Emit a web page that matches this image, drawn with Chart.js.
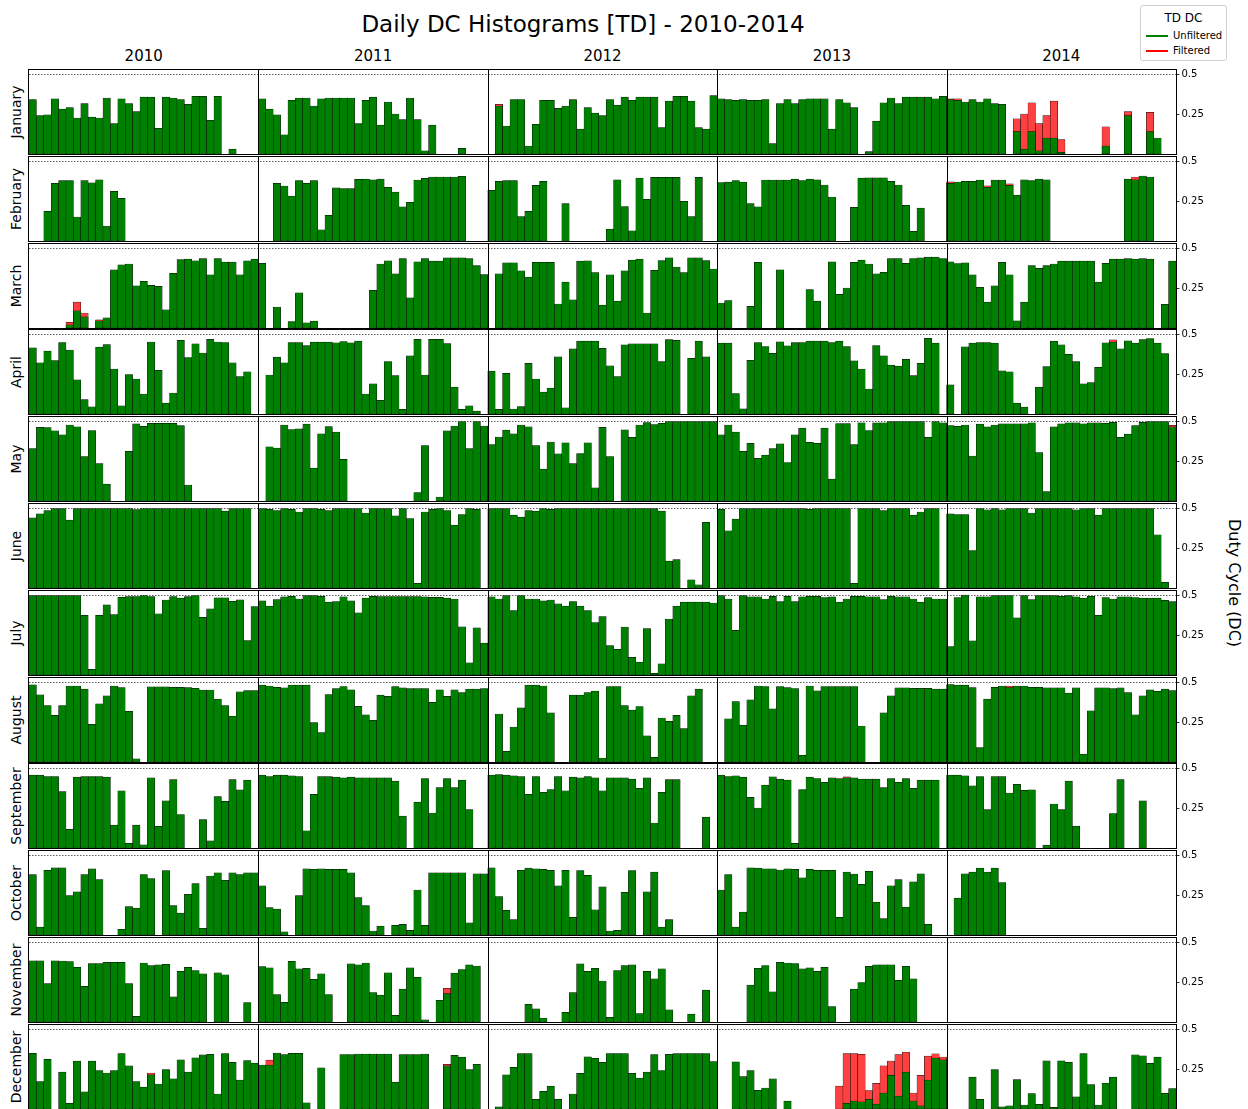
<!DOCTYPE html>
<html>
<head>
<meta charset="utf-8">
<title>Daily DC Histograms [TD] - 2010-2014</title>
<script src="https://cdn.jsdelivr.net/npm/chart.js@4.4.1/dist/chart.umd.min.js"></script>
<style>
  html, body { margin: 0; padding: 0; background: #fff; }
  #fig { position: relative; width: 1248px; height: 1109px; overflow: hidden;
         font-family: "DejaVu Sans", sans-serif; color: #000; background: #fff; }
  .txt { position: absolute; white-space: nowrap; line-height: 1; }
  .rowchart { position: absolute; }
  #legend { position: absolute; left: 1140px; top: 5px; width: 85px; height: 54px;
            border: 1px solid #d0d0d0; border-radius: 3px; background: #fff; }
  #legend .t { position: absolute; left: 0; width: 85px; top: 5px; text-align: center; font-size: 12px; }
  #legend .ln { position: absolute; left: 5px; width: 22px; height: 2px; }
  #legend .lb { position: absolute; left: 32px; font-size: 10px; }
</style>
</head>
<body>
<div id="fig">
  <div class="txt" style="left:0;width:1166px;top:13px;text-align:center;font-size:23px;">Daily DC Histograms [TD] - 2010-2014</div>
  <div id="legend">
    <div class="t">TD DC</div>
    <div class="ln" style="top:29px;background:#008000;"></div><div class="lb" style="top:24px;">Unfiltered</div>
    <div class="ln" style="top:44px;background:#ff0000;"></div><div class="lb" style="top:39px;">Filtered</div>
  </div>
  <div class="txt" style="left:1234px;top:583px;font-size:16px;transform:translate(-50%,-50%) rotate(90deg);">Duty Cycle (DC)</div>
</div>
<script>
// ---- data -------------------------------------------------------------
const _ = null;
const years  = ['2010', '2011', '2012', '2013', '2014'];
const months = ['January', 'February', 'March', 'April', 'May', 'June',
                'July', 'August', 'September', 'October', 'November', 'December'];
const DAYS = 31;                 // day slots per month panel
const dcTicks = [0.25, 0.5];     // right-hand tick values
const dcTickLabels = ['0.25', '0.5'];

// unfiltered daily duty cycle, one row of 31 days per year
const janDC = [
  [0.34,0.24,0.245,0.345,0.28,0.29,0.225,0.315,0.23,0.225,0.35,0.19,0.345,0.315,0.265,0.355,0.355,0.16,0.355,0.35,0.34,0.31,0.36,0.36,0.21,0.36,_,0.03,_,_,_],
  [0.345,0.28,0.245,0.12,0.335,0.35,0.35,0.30,0.345,0.35,0.35,0.35,0.35,0.19,0.335,0.355,0.18,0.325,0.25,0.215,0.35,0.215,0.02,0.18,_,_,_,0.035,_,_,_],
  [_,0.30,0.175,0.34,0.34,0.05,0.185,0.335,0.335,0.285,0.30,0.34,0.155,0.29,0.255,0.24,0.34,0.305,0.355,0.335,0.355,0.355,0.355,0.165,0.33,0.36,0.36,0.33,0.165,0.155,0.365],
  [0.345,0.34,0.335,0.34,0.335,0.335,0.34,0.065,0.315,0.34,0.315,0.34,0.345,0.345,0.345,0.155,0.34,0.32,0.29,_,0.015,0.205,0.32,0.35,0.315,0.355,0.355,0.355,0.355,0.345,0.36],
  [0.34,0.335,0.325,0.34,0.325,0.345,0.315,0.31,_,0.14,0.03,0.14,0.02,0.10,0.10,0.01,_,_,_,_,_,0.05,_,_,0.24,_,_,0.14,0.10,_,_]
];
const febDC = [
  [_,_,0.185,0.36,0.377,0.377,0.15,0.377,0.363,0.383,0.094,0.31,0.266,_,_,_,_,_,_,_,_,_,_,_,_,_,_,_,_,_,_],
  [_,_,0.36,0.344,0.28,0.377,0.36,0.377,0.07,0.16,0.332,0.328,0.328,0.385,0.387,0.383,0.387,0.336,0.305,0.213,0.242,0.381,0.391,0.40,0.40,0.40,0.40,0.404,_,_,_],
  [0.316,0.373,0.377,0.377,0.152,0.186,0.348,0.373,_,_,0.234,_,_,_,_,_,0.074,0.383,0.215,0.064,0.393,0.26,0.398,0.398,0.398,0.398,0.248,0.152,0.398,_,_],
  [0.365,0.368,0.377,0.368,0.234,0.213,0.381,0.381,0.381,0.381,0.387,0.377,0.387,0.383,0.35,0.275,_,_,0.211,0.393,0.395,0.395,0.395,0.373,0.35,0.223,0.061,0.205,_,_,_],
  [0.36,0.369,0.373,0.373,0.381,0.336,0.381,0.381,0.348,0.287,0.383,0.377,0.387,0.383,_,_,_,_,_,_,_,_,_,_,0.387,0.383,0.406,0.40,_,_,_]
];
const marDC = [
  [_,_,_,_,_,0.02,0.107,0.07,_,0.045,0.064,0.363,0.395,0.40,0.264,0.291,0.266,0.26,0.113,0.342,0.428,0.43,0.42,0.434,0.332,0.434,0.412,0.412,0.332,0.42,0.43],
  [0.404,_,0.131,_,0.04,0.22,0.033,0.043,_,_,_,_,_,_,_,0.236,0.40,0.42,0.338,0.434,0.189,0.414,0.434,0.418,0.418,0.438,0.438,0.438,0.434,0.39,0.334],
  [_,0.338,0.408,0.408,0.357,0.318,0.41,0.41,0.41,0.15,0.287,0.176,0.418,0.42,0.346,0.143,0.332,0.168,0.357,0.424,0.43,0.094,0.36,0.422,0.438,0.381,0.346,0.438,0.438,0.422,0.369],
  [0.156,0.172,_,_,0.135,0.41,_,_,0.363,_,_,_,0.24,0.168,_,0.414,0.211,0.25,0.41,0.424,0.40,0.338,0.348,0.434,0.434,0.404,0.434,0.438,0.443,0.443,0.434],
  [0.414,0.402,0.408,0.332,0.254,0.162,0.264,0.41,0.332,0.045,0.162,0.39,0.373,0.39,0.40,0.418,0.418,0.418,0.418,0.418,0.287,0.404,0.43,0.43,0.434,0.43,0.434,0.43,_,0.148,0.418]
];
const aprDC = [
  [0.414,0.32,0.393,0.334,0.447,0.40,0.213,0.09,0.045,0.418,0.434,0.281,0.051,0.246,0.219,0.125,0.45,0.273,0.068,0.131,0.461,0.352,0.438,0.381,0.467,0.45,0.447,0.32,0.234,0.264,_],
  [_,0.244,0.355,0.32,0.447,0.447,0.428,0.449,0.449,0.449,0.445,0.453,0.445,0.455,0.125,0.189,0.086,0.328,0.24,0.029,0.363,0.467,0.244,0.467,0.467,0.44,0.168,0.029,0.051,0.018,_],
  [0.268,0.029,0.254,0.031,0.047,0.316,0.219,0.137,0.162,0.357,0.039,0.408,0.455,0.455,0.455,0.41,0.301,0.234,0.432,0.438,0.438,0.438,0.438,0.328,0.465,0.461,_,0.348,0.455,0.357,_],
  [0.443,0.443,0.127,0.033,0.336,0.447,0.422,0.379,0.451,0.426,0.447,0.447,0.455,0.455,0.455,0.447,0.455,0.422,0.332,0.281,0.156,0.428,0.363,0.305,0.299,0.342,0.24,0.316,0.473,0.443,_],
  [0.182,_,0.42,0.443,0.447,0.447,0.443,0.27,0.264,0.068,0.043,_,0.168,0.297,0.455,0.432,0.373,0.328,0.189,0.197,0.291,0.445,0.449,0.408,0.457,0.443,0.465,0.471,0.443,0.377,_]
];
const mayDC = [
  [0.328,0.461,0.459,0.438,0.414,0.475,0.463,0.277,0.44,0.234,0.105,_,_,0.311,0.482,0.467,0.486,0.486,0.486,0.486,0.471,0.10,_,_,_,_,_,_,_,_,_],
  [_,0.338,0.33,0.475,0.447,0.451,0.48,0.205,0.42,0.465,0.43,0.26,_,_,_,_,_,_,_,_,_,0.053,0.346,_,0.025,0.438,0.469,0.496,0.328,0.496,0.469],
  [0.352,0.40,0.443,0.42,0.475,0.463,0.346,0.199,0.369,0.295,0.363,0.234,0.297,0.363,0.082,0.461,0.277,_,0.445,0.398,0.475,0.49,0.477,0.486,0.496,0.496,0.496,0.496,0.496,0.496,0.496],
  [0.414,0.475,0.43,0.311,0.36,0.266,0.287,0.328,0.357,0.24,0.414,0.455,0.367,0.36,0.455,0.137,0.484,0.484,0.352,0.488,0.44,0.488,0.488,0.496,0.496,0.496,0.496,0.496,0.398,0.496,0.488],
  [0.471,0.467,0.475,0.281,0.48,0.463,0.475,0.482,0.482,0.482,0.482,0.488,0.303,0.059,0.463,0.482,0.488,0.488,0.482,0.488,0.488,0.486,0.492,0.398,0.418,0.471,0.492,0.496,0.496,0.496,0.463]
];
const junDC = [
  [0.438,0.463,0.484,0.496,0.496,0.424,0.496,0.496,0.496,0.496,0.496,0.496,0.496,0.496,0.49,0.496,0.496,0.496,0.496,0.496,0.496,0.496,0.496,0.496,0.496,0.496,0.48,0.496,0.496,0.496,_],
  [0.496,0.492,0.484,0.496,0.492,0.475,0.496,0.496,0.492,0.484,0.496,0.496,0.496,0.496,0.469,0.496,0.496,0.496,0.451,0.496,0.434,0.029,0.475,0.492,0.496,0.484,0.393,0.459,0.496,0.492,_],
  [0.496,0.496,0.496,0.455,0.443,0.484,0.48,0.496,0.492,0.496,0.496,0.496,0.496,0.496,0.496,0.496,0.496,0.496,0.496,0.496,0.496,0.496,0.496,0.48,0.168,0.178,_,0.051,0.02,0.41,_],
  [0.492,0.357,0.43,0.496,0.496,0.496,0.496,0.496,0.496,0.496,0.496,0.496,0.492,0.496,0.496,0.496,0.496,0.496,0.029,0.496,0.496,0.496,0.484,0.496,0.496,0.496,0.455,0.475,0.496,0.496,_],
  [0.463,0.459,0.459,0.234,0.496,0.488,0.496,0.488,0.496,0.496,0.496,0.469,0.496,0.496,0.496,0.496,0.496,0.488,0.496,0.496,0.455,0.496,0.496,0.496,0.496,0.496,0.496,0.496,0.332,0.035,_]
];
const julDC = [
  [0.496,0.496,0.496,0.496,0.496,0.496,0.496,0.373,0.035,0.373,0.438,0.377,0.486,0.49,0.49,0.496,0.49,0.383,0.469,0.49,0.48,0.49,0.496,0.36,0.414,0.482,0.482,0.46,0.47,0.215,0.428],
  [0.463,0.43,0.471,0.488,0.492,0.475,0.496,0.496,0.492,0.455,0.459,0.488,0.463,0.389,0.48,0.492,0.49,0.49,0.49,0.49,0.49,0.49,0.488,0.486,0.486,0.48,0.475,0.301,0.076,0.295,0.199],
  [0.488,0.475,0.496,0.402,0.496,0.475,0.475,0.463,0.469,0.445,0.43,0.459,0.43,0.402,0.328,0.365,0.184,0.16,0.30,0.11,0.08,0.29,0.01,0.07,0.35,0.43,0.455,0.455,0.455,0.455,0.45],
  [0.496,0.475,0.279,0.496,0.488,0.488,0.475,0.492,0.459,0.492,0.459,0.488,0.492,0.492,0.484,0.488,0.455,0.475,0.492,0.492,0.488,0.488,0.471,0.492,0.488,0.488,0.475,0.455,0.484,0.475,0.475],
  [0.178,0.484,0.50,0.213,0.488,0.488,0.496,0.496,0.496,0.357,0.496,0.471,0.496,0.496,0.496,0.492,0.496,0.488,0.48,0.492,0.373,0.484,0.475,0.488,0.488,0.484,0.48,0.48,0.48,0.467,0.459]
];
const augDC = [
  [0.482,0.42,0.352,0.291,0.352,0.475,0.475,0.455,0.236,0.363,0.414,0.475,0.465,0.316,0.02,_,0.47,0.47,0.47,0.467,0.467,0.465,0.46,0.45,0.45,0.393,0.352,0.287,0.438,0.447,0.447],
  [0.48,0.475,0.467,0.463,0.48,0.48,0.48,0.246,0.184,0.422,0.459,0.471,0.451,0.348,0.295,0.26,0.418,0.41,0.471,0.463,0.459,0.459,0.459,0.373,0.451,0.41,0.451,0.434,0.455,0.455,0.459],
  [_,0.30,0.066,0.219,0.338,0.48,0.48,0.475,0.307,_,_,0.418,0.418,0.434,0.443,0.025,0.471,0.471,0.352,0.324,0.346,0.164,0.029,0.275,0.254,0.291,0.209,0.414,0.455,_,_],
  [_,0.27,0.377,0.23,0.389,0.475,0.471,0.332,0.471,0.465,0.459,0.041,0.475,0.445,0.471,0.471,0.471,0.471,0.471,0.225,_,_,0.307,0.414,0.463,0.463,0.461,0.461,0.461,0.455,0.455],
  [0.484,0.48,0.48,0.465,0.09,0.393,0.467,0.475,0.465,0.475,0.475,0.467,0.467,0.463,0.463,0.463,0.43,0.463,0.049,0.32,0.463,0.463,0.459,0.463,0.434,0.295,0.414,0.451,0.441,0.455,0.447]
];
const sepDC = [
  [0.455,0.455,0.447,0.447,0.352,0.117,0.443,0.447,0.447,0.447,0.443,0.143,0.357,0.029,0.143,0.02,0.438,0.135,0.295,0.428,0.209,_,_,0.178,0.045,0.322,0.291,0.428,0.363,0.424,_],
  [0.455,0.447,0.455,0.455,0.451,0.447,0.107,0.336,0.447,0.447,0.443,0.438,0.443,0.438,0.438,0.438,0.438,0.438,0.418,0.199,_,0.287,0.434,0.219,0.377,0.434,0.377,0.424,0.24,_,_],
  [0.455,0.459,0.455,0.451,0.447,0.336,0.447,0.348,0.365,0.447,0.357,0.443,0.438,0.447,0.438,0.357,0.438,0.438,0.438,0.43,0.373,0.438,0.156,0.348,0.428,0.428,_,_,_,0.193,_],
  [0.455,0.447,0.451,0.443,0.316,0.25,0.393,0.445,0.43,0.424,0.029,0.365,0.443,0.434,0.41,0.438,0.434,0.438,0.438,0.43,0.43,0.43,0.377,0.434,0.41,0.434,0.373,0.424,0.424,0.424,_],
  [0.455,0.455,0.451,0.389,0.447,0.24,0.447,0.447,0.344,0.398,0.36,0.363,_,0.018,0.275,0.24,0.418,0.137,_,_,_,_,0.215,0.428,_,_,0.295,_,_,_,_]
];
const octDC = [
  [0.377,0.049,0.404,0.42,0.42,0.246,0.27,0.377,0.414,0.346,_,_,0.035,0.178,0.168,0.377,0.352,_,0.402,0.184,0.137,0.254,0.322,0.041,0.369,0.389,0.342,0.389,0.377,0.389,0.389],
  [0.307,0.172,0.162,0.02,_,0.246,0.414,0.41,0.414,0.41,0.41,0.41,0.389,0.234,0.184,0.025,0.055,_,0.061,0.066,0.029,0.281,0.061,0.389,0.389,0.389,0.389,0.389,0.076,0.383,0.383],
  [0.42,0.24,0.154,0.096,0.404,0.418,0.414,0.41,0.404,0.307,0.404,0.111,0.402,0.373,0.158,0.301,0.025,0.029,0.266,0.402,_,0.27,0.393,0.049,0.096,_,_,_,_,_,_],
  [0.281,0.377,0.049,0.143,0.42,0.418,0.414,0.414,0.406,0.414,0.41,0.357,0.41,0.404,0.404,0.404,0.111,0.393,0.381,0.316,0.398,0.205,0.102,0.307,0.346,0.174,0.332,0.383,0.066,_,_],
  [_,0.23,0.383,0.393,0.418,0.393,0.418,0.328,_,_,_,_,_,_,_,_,_,_,_,_,_,_,_,_,_,_,_,_,_,_,_]
];
const novDC = [
  [0.383,0.383,0.24,0.383,0.381,0.377,0.342,0.223,0.365,0.365,0.373,0.373,0.373,0.24,0.035,0.369,0.352,0.357,0.36,0.158,0.316,0.342,0.322,0.301,_,0.307,0.295,_,_,0.121,_],
  [0.346,0.338,0.172,0.123,0.379,0.332,0.336,0.266,0.301,0.172,_,_,0.363,0.357,0.369,0.184,0.168,0.307,0.041,0.205,0.338,0.279,0.014,_,0.135,0.178,0.305,0.328,0.357,0.35,_],
  [_,_,_,_,_,0.111,0.082,0.025,_,_,0.061,0.184,0.363,0.316,0.336,0.256,0.029,0.322,0.352,0.357,0.053,0.316,0.27,0.332,0.076,_,_,0.049,_,0.199,_],
  [_,_,_,_,0.23,0.336,0.352,0.189,0.373,0.369,0.365,0.332,0.338,0.316,0.342,0.096,_,_,0.205,0.246,0.348,0.357,0.357,0.357,0.26,0.348,0.27,_,_,_,_],
  [_,_,_,_,_,_,_,_,_,_,_,_,_,_,_,_,_,_,_,_,_,_,_,_,_,_,_,_,_,_,_]
];
const decDC = [
  [0.348,0.172,0.311,_,0.23,0.035,0.299,0.107,0.299,0.24,0.225,0.24,0.346,0.27,0.172,0.137,0.213,0.156,0.246,0.189,0.307,0.23,0.32,0.338,0.342,0.094,0.346,0.291,0.18,0.303,0.287],
  [0.275,0.275,0.35,0.34,0.348,0.348,0.039,_,0.258,_,_,0.34,0.34,0.344,0.344,0.344,0.344,0.344,0.168,0.34,0.34,0.34,0.344,_,_,0.27,0.336,0.324,0.246,0.279,_],
  [_,0.014,0.213,0.26,0.346,0.346,0.061,0.111,0.143,0.061,_,0.094,0.223,0.326,0.316,0.291,0.346,0.346,0.346,0.223,0.193,0.23,0.34,0.24,0.342,0.346,0.346,0.346,0.346,0.346,0.297],
  [_,_,0.295,0.203,0.24,0.117,0.131,0.189,_,0.049,_,_,_,_,_,_,_,0.035,0.05,0.045,0.06,0.03,0.10,0.21,0.08,0.23,0.05,0.02,0.18,0.318,0.307],
  [_,_,_,0.199,0.061,_,0.246,0.014,0.02,0.184,0.025,0.096,0.029,0.301,0.01,0.301,0.291,0.076,0.346,0.152,0.025,0.162,0.199,_,_,0.338,0.332,0.285,0.324,0.098,0.127]
];
const monthlyDC = [janDC, febDC, marDC, aprDC, mayDC, junDC, julDC, augDC, sepDC, octDC, novDC, decDC];

// filtered duty cycle where it differs from the unfiltered one:
// [month index, year index, day index, value]
const filteredDC = [
  [0,2,1,0.31],
  [0,4,0,0.345],[0,4,1,0.345],[0,4,9,0.22],[0,4,10,0.25],[0,4,11,0.32],[0,4,12,0.19],[0,4,13,0.24],
  [0,4,14,0.33],[0,4,15,0.09],[0,4,21,0.17],[0,4,24,0.265],[0,4,27,0.26],
  [1,4,0,0.37],[1,4,5,0.345],[1,4,8,0.358],[1,4,25,0.40],
  [2,0,5,0.035],[2,0,6,0.162],[2,0,7,0.094],[2,0,9,0.051],
  [3,4,22,0.463],
  [4,4,30,0.473],
  [7,4,8,0.475],
  [8,3,17,0.445],
  [10,1,25,0.211],
  [11,0,16,0.225],
  [11,1,1,0.305],[11,1,25,0.279],
  [11,3,16,0.143],[11,3,17,0.346],[11,3,18,0.346],[11,3,19,0.342],[11,3,20,0.115],[11,3,21,0.16],
  [11,3,22,0.27],[11,3,23,0.30],[11,3,24,0.34],[11,3,25,0.355],[11,3,26,0.10],[11,3,27,0.21],
  [11,3,28,0.33],[11,3,29,0.345],[11,3,30,0.325]
];

// ---- layout -----------------------------------------------------------
const fig = document.getElementById('fig');
const PLOT_LEFT = 29, PLOT_W = 1147;
const ROW_TOP = 70, ROW_PITCH = 86.8, ROW_H = 84;
const Y_MAX = 0.525;
const AXIS_W = 40;

function addText(txt, css) {
  const d = document.createElement('div');
  d.className = 'txt';
  d.textContent = txt;
  Object.assign(d.style, css);
  fig.appendChild(d);
  return d;
}

// year headings
years.forEach((y, k) => {
  addText(y, { left: (PLOT_LEFT + PLOT_W / years.length * (k + 0.5)) + 'px', top: '56px',
               fontSize: '15px', transform: 'translate(-50%,-50%)' });
});

// panel frame, year separators and the DC = 0.5 reference line
const panelFrame = {
  id: 'panelFrame',
  afterDatasetsDraw(chart) {
    const { ctx, chartArea: a, scales: { x, y } } = chart;
    ctx.save();
    const y5 = Math.round(y.getPixelForValue(0.5)) + 0.5;
    ctx.strokeStyle = '#333';
    ctx.lineWidth = 0.8;
    ctx.setLineDash([1.5, 1.5]);
    ctx.beginPath(); ctx.moveTo(a.left, y5); ctx.lineTo(a.right, y5); ctx.stroke();
    ctx.setLineDash([]);
    ctx.strokeStyle = '#000';
    ctx.lineWidth = 1;
    const l = Math.round(a.left) - 0.5, r = Math.round(a.right) + 0.5;
    const t = Math.round(a.top) - 0.5, b = Math.round(a.bottom) + 0.5;
    ctx.strokeRect(l, t, r - l, b - t);
    ctx.beginPath();
    for (let k = 1; k < years.length; k++) {
      const xs = Math.round((x.getPixelForValue(k * DAYS - 1) + x.getPixelForValue(k * DAYS)) / 2) + 0.5;
      ctx.moveTo(xs, t); ctx.lineTo(xs, b);
    }
    ctx.stroke();
    ctx.restore();
  }
};

const labels = [];
years.forEach(y => { for (let d = 1; d <= DAYS; d++) labels.push(y + '-' + d); });

monthlyDC.forEach((rows, m) => {
  const top = Math.round(ROW_TOP + ROW_PITCH * m);
  const unfiltered = [].concat(...rows);
  const filtered = new Array(unfiltered.length).fill(null);
  filteredDC.filter(f => f[0] === m).forEach(([, yi, di, v]) => { filtered[yi * DAYS + di] = v; });

  addText(months[m], { left: '16px', top: (top + ROW_H / 2) + 'px', fontSize: '14px',
                       transform: 'translate(-50%,-50%) rotate(-90deg)' });

  const canvas = document.createElement('canvas');
  canvas.className = 'rowchart';
  canvas.width = PLOT_W + 1 + AXIS_W;
  canvas.height = ROW_H + 2;
  canvas.style.left = (PLOT_LEFT - 1) + 'px';
  canvas.style.top = (top - 1) + 'px';
  fig.appendChild(canvas);

  const barStyle = { borderColor: '#000', borderWidth: 0.5, borderSkipped: false,
                     barPercentage: 1, categoryPercentage: 1, grouped: false };
  new Chart(canvas, {
    type: 'bar',
    data: {
      labels,
      datasets: [
        Object.assign({ label: 'Unfiltered', data: unfiltered, backgroundColor: '#008000', order: 0 }, barStyle),
        Object.assign({ label: 'Filtered', data: filtered, backgroundColor: '#ff4040', order: 1 }, barStyle)
      ]
    },
    options: {
      responsive: false,
      animation: false,
      devicePixelRatio: 1,
      layout: { autoPadding: false, padding: { left: 1, top: 1, bottom: 1, right: 0 } },
      plugins: { legend: { display: false }, tooltip: { enabled: false } },
      scales: {
        x: { display: false, offset: true },
        y: {
          position: 'right', min: 0, max: Y_MAX,
          afterBuildTicks: s => { s.ticks = dcTicks.map(v => ({ value: v })); },
          afterFit: s => { s.width = AXIS_W; s.paddingTop = 0; s.paddingBottom = 0; },
          ticks: { color: '#000', font: { family: 'DejaVu Sans', size: 10 }, padding: 2,
                   callback: v => dcTickLabels[dcTicks.indexOf(v)] },
          grid: { drawOnChartArea: false, drawTicks: true, tickLength: 3.5, tickColor: '#000', tickWidth: 0.8 },
          border: { display: false }
        }
      }
    },
    plugins: [panelFrame]
  });
});
</script>
</body>
</html>
